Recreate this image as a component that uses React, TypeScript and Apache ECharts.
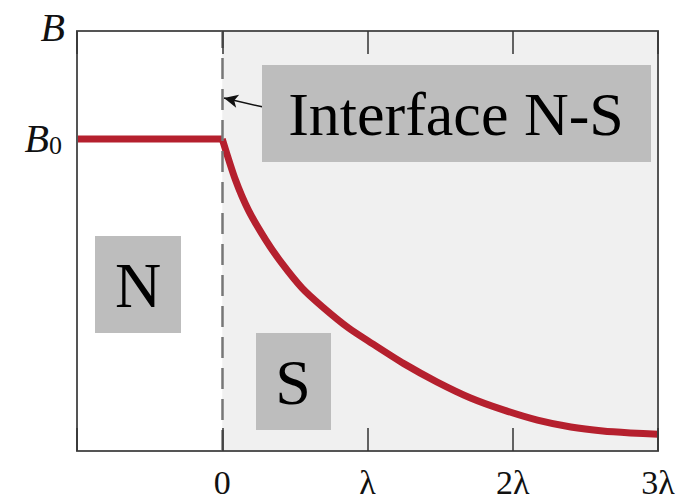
import React, { useEffect, useRef } from "react";
import * as echarts from "echarts";

// Field profile B(x) across a normal / superconductor interface (x in units of λ, B in units of B0)
const flatX = [-1, 0];
const flatB = [1, 1];
const decayX = [0, 0.09, 0.18, 0.3, 0.41, 0.55, 0.69, 0.87, 1.03, 1.25, 1.48, 1.71, 1.94, 2.17, 2.4, 2.62, 2.81, 3];
const decayB = [1, 0.87, 0.772, 0.676, 0.602, 0.522, 0.462, 0.394, 0.345, 0.28, 0.221, 0.17, 0.131, 0.099, 0.077, 0.064, 0.058, 0.054];

const xTickValues = [-1, 0, 1, 2, 3];
const xTickLabels = ["", "0", "λ", "2λ", "3λ"];
const yTopValue = 1.346;

const RED = "#b5202e";
const FRAME = "#555555";
const SERIF = "Liberation Serif";

export default function App() {
  const ref = useRef<HTMLDivElement>(null);

  useEffect(() => {
    document.body.style.margin = "0";
    if (!ref.current) return;
    const chart = echarts.init(ref.current, undefined, { renderer: "svg" });

    const xLabel = (v: number) => {
      const i = xTickValues.findIndex((t) => Math.abs(t - v) < 1e-9);
      return i >= 0 ? xTickLabels[i] : "";
    };

    const frameLine = { show: true, onZero: false, lineStyle: { color: FRAME, width: 2 } };

    const baseX = {
      type: "value" as const,
      min: -1,
      max: 3,
      interval: 1,
      z: 5,
      splitLine: { show: false },
      axisLine: frameLine,
      axisTick: { show: true, inside: true, length: 23, lineStyle: { color: "#333", width: 1.5 } },
    };

    chart.setOption({
      animation: false,
      backgroundColor: "#ffffff",
      grid: { left: 77, right: 24, top: 31, bottom: 51 },
      xAxis: [
        {
          ...baseX,
          position: "bottom",
          axisLabel: {
            formatter: xLabel,
            fontSize: 34,
            lineHeight: 34,
            fontFamily: SERIF,
            color: "#111",
            margin: 14,
          },
        },
        {
          ...baseX,
          position: "top",
          axisLabel: { show: false },
        },
      ],
      yAxis: [
        {
          type: "value",
          min: 0,
          max: yTopValue,
          interval: 1,
          z: 5,
          position: "left",
          name: "B",
          nameLocation: "end",
          nameGap: 4,
          nameTextStyle: {
            fontFamily: SERIF,
            fontStyle: "italic",
            fontSize: 40,
            color: "#111",
            align: "right",
            verticalAlign: "middle",
            padding: [0, 12, 0, 0],
          },
          splitLine: { show: false },
          axisTick: { show: false },
          axisLine: frameLine,
          axisLabel: {
            margin: 15,
            formatter: (v: number) => (Math.abs(v - 1) < 1e-9 ? "{b|B}{s|0}" : ""),
            rich: {
              b: { fontFamily: SERIF, fontStyle: "italic", fontSize: 40, color: "#111", lineHeight: 40 },
              s: { fontFamily: SERIF, fontSize: 26, color: "#111", lineHeight: 26, padding: [14, 0, 0, 0] },
            },
          },
        },
        {
          type: "value",
          min: 0,
          max: yTopValue,
          interval: 1,
          z: 5,
          position: "right",
          splitLine: { show: false },
          axisTick: { show: false },
          axisLabel: { show: false },
          axisLine: frameLine,
        },
      ],
      series: [
        {
          // shaded superconducting side
          type: "line",
          z: 1,
          data: [],
          silent: true,
          markArea: {
            silent: true,
            itemStyle: { color: "#f0f0f0" },
            data: [[{ xAxis: 0 }, { xAxis: 3 }]],
          },
        },
        {
          // interface position
          type: "line",
          z: 2,
          data: [],
          silent: true,
          markLine: {
            silent: true,
            symbol: "none",
            label: { show: false },
            lineStyle: { color: "#777777", width: 2.5, type: [21, 10] },
            data: [{ xAxis: 0 }],
          },
        },
        {
          type: "line",
          z: 3,
          data: flatX.map((x, i) => [x, flatB[i]]),
          showSymbol: false,
          lineStyle: { color: RED, width: 7 },
        },
        {
          type: "line",
          z: 3,
          smooth: 0.25,
          data: decayX.map((x, i) => [x, decayB[i]]),
          showSymbol: false,
          lineStyle: { color: RED, width: 7, join: "round" },
          markLine: {
            silent: true,
            label: { show: false },
            symbol: ["none", "arrow"],
            symbolSize: [10, 14],
            lineStyle: { color: "#111", width: 1.5, type: "solid" },
            data: [[{ coord: [0.275, 1.103] }, { coord: [0.012, 1.131] }]],
          },
        },
      ],
      graphic: [
        { type: "rect", z: 10, shape: { x: 262, y: 65, width: 389, height: 97 }, style: { fill: "#bdbdbd" } },
        {
          type: "text", z: 11, x: 456, y: 114,
          style: { text: "Interface N-S", fontFamily: SERIF, fontSize: 62, fill: "#000", align: "center", verticalAlign: "middle" },
        },
        { type: "rect", z: 10, shape: { x: 95, y: 236, width: 86, height: 97 }, style: { fill: "#bdbdbd" } },
        {
          type: "text", z: 11, x: 138, y: 285,
          style: { text: "N", fontFamily: SERIF, fontSize: 64, fill: "#000", align: "center", verticalAlign: "middle" },
        },
        { type: "rect", z: 10, shape: { x: 256, y: 333, width: 75, height: 97 }, style: { fill: "#bdbdbd" } },
        {
          type: "text", z: 11, x: 293, y: 382,
          style: { text: "S", fontFamily: SERIF, fontSize: 64, fill: "#000", align: "center", verticalAlign: "middle" },
        },
      ],
    });

    return () => chart.dispose();
  }, []);

  return <div ref={ref} style={{ width: 682, height: 502 }} />;
}
